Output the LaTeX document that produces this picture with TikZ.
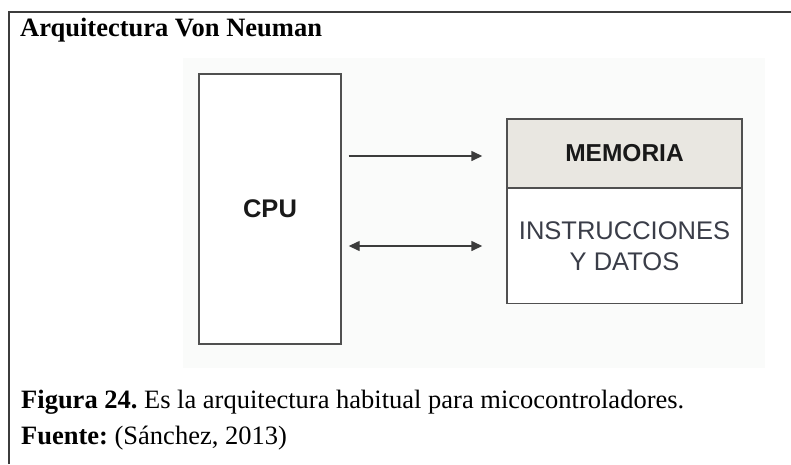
\documentclass[tikz,border=0pt]{standalone}
\usepackage{fontspec}
\setmainfont{Liberation Serif}
\newfontfamily\arial{Liberation Sans}
\usetikzlibrary{arrows.meta}
\frenchspacing
\definecolor{framegray}{HTML}{3C3C3C}
\definecolor{boxgray}{HTML}{505050}
\definecolor{panel}{HTML}{FAFBFA}
\definecolor{hdrfill}{HTML}{E9E7E1}
\definecolor{bodytext}{HTML}{3A3D48}
\begin{document}
\begin{tikzpicture}[x=1pt,y=-1pt,
  block/.style={draw=boxgray, line width=1.4pt, fill=white, inner sep=0pt},
  link/.style={draw=framegray, line width=1.4pt},
  tip/.style={-{Triangle[length=11pt,width=10pt]}},
  dtip/.style={{Triangle[length=11pt,width=10pt]}-{Triangle[length=11pt,width=10pt]}},
  serif/.style={font=\fontsize{26.5}{30}\selectfont, inner sep=0pt, anchor=base west}]
  \useasboundingbox (0,0) rectangle (791,464);
  \fill[white] (0,0) rectangle (791,464);
  % outer frame: top and left rules
  \draw[framegray, line width=1.5pt] (9,464) -- (9,12) -- (791,12);
  % title
  \node[serif] (title) at (20,36) {\textbf{Arquitectura Von Neuman}};
  % light panel behind the diagram
  \fill[panel] (183,58) rectangle (765,368);
  % CPU block
  \node[block, minimum width=142pt, minimum height=270pt,
        font=\arial\bfseries\fontsize{25.5}{30}\selectfont, text=black!90] (cpu) at (270,209) {CPU};
  % memory block: header and body
  \node[block, fill=hdrfill, minimum width=235pt, minimum height=69pt,
        font=\arial\bfseries\fontsize{24.5}{30}\selectfont, text=black!90] (hdr) at (624.5,153.5) {MEMORIA};
  \node[block, minimum width=235pt, minimum height=115pt, align=center,
        font=\arial\fontsize{25.5}{31}\selectfont, text=bodytext] (body) at (624.5,246) {INSTRUCCIONES\\Y DATOS};
  % buses
  \draw[link, tip, shorten <=7pt, shorten >=24pt] ([yshift=-2.5pt]cpu.east |- hdr.center) -- ([yshift=-2.5pt]hdr.west);
  \draw[link, dtip, shorten <=7pt, shorten >=24pt] (cpu.east |- body.center) -- (body.west);
  % caption
  \node[serif] (cap) at (21,408) {\textbf{Figura 24.} Es la arquitectura habitual para micocontroladores.};
  \node[serif] (src) at (21,444) {\textbf{Fuente:} (Sánchez, 2013)};
\end{tikzpicture}
\end{document}
